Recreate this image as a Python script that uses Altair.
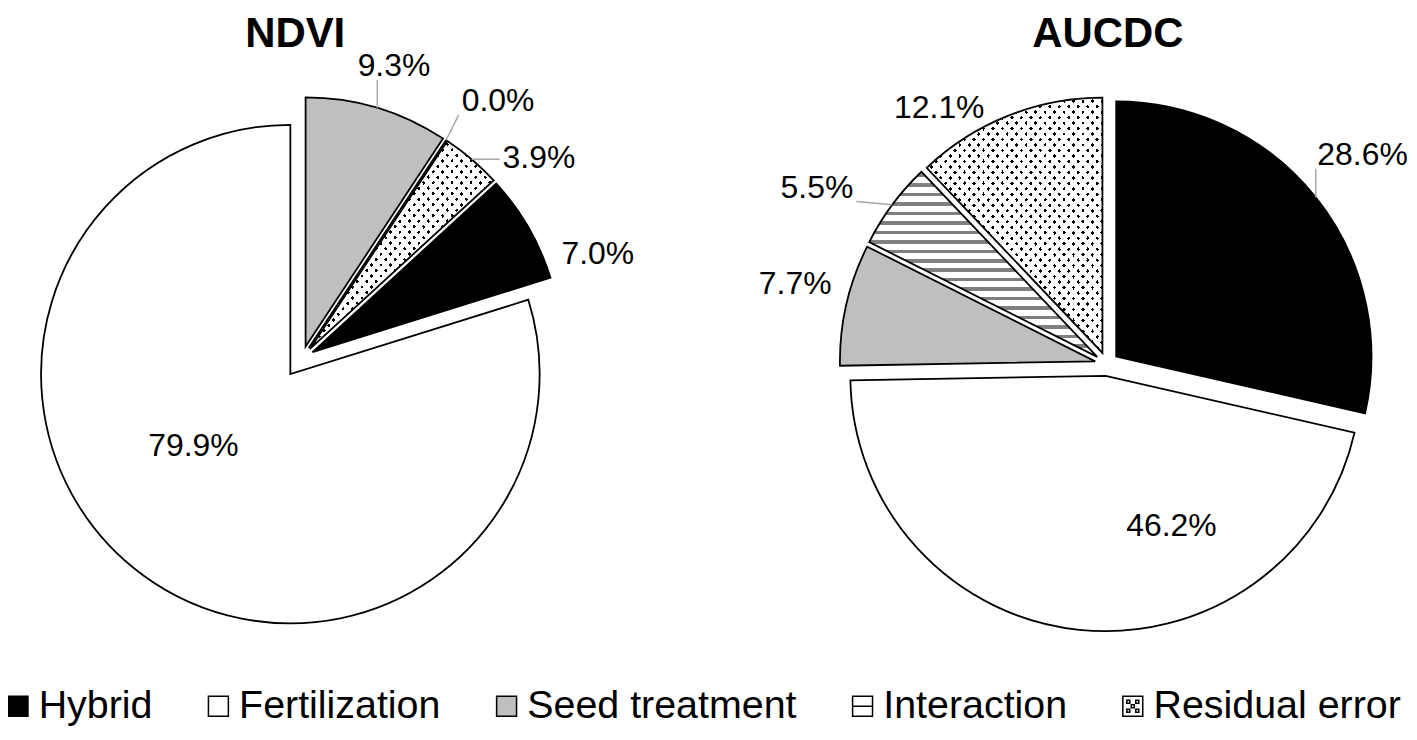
import math
import altair as alt
import pandas as pd

# ---------------- data ----------------
categories = ["Hybrid", "Fertilization", "Seed treatment", "Interaction", "Residual error"]
ndvi_values = [7.0, 79.9, 9.3, 0.0, 3.9]
aucdc_values = [28.6, 46.2, 7.7, 5.5, 12.1]
panel_titles = ["NDVI", "AUCDC"]
series_values = {"NDVI": ndvi_values, "AUCDC": aucdc_values}

# ---------------- style / layout ----------------
M = 8                      # page margin
W, H = 1405, 719
FONT = "Liberation Sans"
LABEL_FS = 32
LEGEND_FS = 39.5
TRANSP = "rgba(255,255,255,0)"
fill_colors = ["#000000", "#ffffff", "#bfbfbf", "#ffffff", "#ffffff"]
stroke_colors = ["#000000"] * 5
SQ = "M-1,-1H1V1H-1Z"
legend_shapes = [
    SQ, SQ, SQ,
    SQ + " M-1,0H1",
    SQ + " M-0.6,-0.6h0.3v0.3h-0.3Z M0.3,-0.6h0.3v0.3h-0.3Z M-0.15,-0.15h0.3v0.3h-0.3Z"
         " M-0.6,0.3h0.3v0.3h-0.3Z M0.3,0.3h0.3v0.3h-0.3Z",
]

PIE_LAYOUT = {
    "NDVI": {
        "center": (303, 358), "r": 250,
        "explode": {"Fertilization": 20}, "explode_default": 12,
        "first": "Seed treatment", "title_x": 296,
        "labels": {"Hybrid": (10.7, 303), "Fertilization": (17.8, 120),
                   "Seed treatment": (0.7, 296), "Interaction": (3.9, 313),
                   "Residual error": (9.5, 300)},
        "leaders": ["Seed treatment", "Interaction", "Residual error"],
    },
    "AUCDC": {
        "center": (1110, 364), "r": 256,
        "explode": {}, "explode_default": 12,
        "first": "Hybrid", "title_x": 1111,
        "labels": {"Hybrid": (-0.9, 320), "Fertilization": (-29.8, 163),
                   "Seed treatment": (1.8, 311), "Interaction": (-5.3, 329),
                   "Residual error": (-11.8, 296)},
        "leaders": ["Hybrid", "Interaction"],
    },
}


def text_w(s, fs):
    widths = {"%": 0.889, ".": 0.278}
    return sum(widths.get(ch, 0.556) for ch in s) * fs


def arc_bbox(a0, a1, r):
    pts = [(0.0, 0.0), (r * math.sin(a0), -r * math.cos(a0)), (r * math.sin(a1), -r * math.cos(a1))]
    k = math.ceil(a0 / (math.pi / 2))
    while k * math.pi / 2 < a1:
        a = k * math.pi / 2
        pts.append((r * math.sin(a), -r * math.cos(a)))
        k += 1
    xs = [p[0] for p in pts]
    ys = [p[1] for p in pts]
    return max(xs) - min(xs), max(ys) - min(ys)


def band_gradient(w, h, nx, ny, period, band, c_band, c_gap, phase=0.0):
    n = math.hypot(nx, ny)
    nx, ny = nx / n, ny / n
    projs = [0.0, w * nx, h * ny, w * nx + h * ny]
    pmin, pmax = min(projs), max(projs)
    L = pmax - pmin
    x0 = w if nx < 0 else 0.0
    y0 = h if ny < 0 else 0.0
    u1, v1 = x0 / w, y0 / h
    s = L / (nx * nx * w * w + ny * ny * h * h)
    u2, v2 = u1 + s * nx * w, v1 + s * ny * h

    def in_band(p):
        return ((p - phase) % period) < band

    cur = c_band if in_band(pmin + 1e-9) else c_gap
    stops = [(0.0, cur)]
    edges = []
    k0 = math.floor((pmin - phase) / period) - 1
    k1 = math.ceil((pmax - phase) / period) + 1
    for k in range(k0, k1 + 1):
        for e in (phase + k * period, phase + k * period + band):
            if pmin < e < pmax:
                edges.append(e)
    edges.sort()
    for e in edges:
        t = round((e - pmin) / L, 5)
        new = c_band if in_band(e + 1e-6) else c_gap
        if new != cur:
            stops.append((t, cur))
            stops.append((t, new))
            cur = new
    stops.append((1.0, cur))
    return {"gradient": "linear", "x1": round(u1, 5), "y1": round(v1, 5),
            "x2": round(u2, 5), "y2": round(v2, 5),
            "stops": [{"offset": t, "color": c} for t, c in stops]}


def pie_frame(name):
    lay = PIE_LAYOUT[name]
    vals = series_values[name]
    total = sum(vals)
    cx0, cy0 = lay["center"][0] - M, lay["center"][1] - M
    r = lay["r"]
    first_start = sum(vals[:categories.index(lay["first"])])
    rot = (2 * math.pi * (total - first_start) / total) % (2 * math.pi)
    rows, cum = [], 0.0
    for c, v in zip(categories, vals):
        v0, v1 = cum, cum + v
        cum = v1
        a0 = rot + 2 * math.pi * v0 / total
        a1 = rot + 2 * math.pi * v1 / total
        mid = (a0 + a1) / 2
        d = lay["explode"].get(c, lay["explode_default"])
        cx = cx0 + d * math.sin(mid)
        cy = cy0 - d * math.cos(mid)
        lab = f"{v:.1f}%"
        da, R = lay["labels"][c]
        la = mid + math.radians(da)
        lx = cx + R * math.sin(la)
        ly = cy - R * math.cos(la)
        ax = cx + r * math.sin(mid)
        ay = cy - r * math.cos(mid)
        hw = text_w(lab, LABEL_FS) / 2 + 3
        hh = 15
        ex = min(max(ax, lx - hw), lx + hw)
        ey = min(max(ay, ly - hh), ly + hh)
        rows.append(dict(cat=c, value=v, v0=v0, v1=v1, a0=a0, a1=a1, cx=cx, cy=cy,
                         label=lab, lx=lx, ly=ly + 0.36 * LABEL_FS,
                         leader=c in lay["leaders"], ax=ax, ay=ay, ex=ex, ey=ey))
    return pd.DataFrame(rows), total, rot


LEGEND = alt.Legend(
    title=None, orient="none", legendX=-9.75, legendY=679, direction="horizontal",
    labelFont=FONT, labelFontSize=LEGEND_FS, labelColor="black", labelLimit=600,
    labelOffset=1, symbolSize=400, symbolStrokeColor="black", symbolStrokeWidth=1.5,
    columnPadding=46, padding=0, symbolOpacity=1,
)
FILL = alt.Fill("cat:N", scale=alt.Scale(domain=categories, range=fill_colors), legend=LEGEND)
XY = dict(x=alt.X("cx:Q", scale=None, axis=None), y=alt.Y("cy:Q", scale=None, axis=None))


def pie_chart(name):
    df, total, rot = pie_frame(name)
    r = PIE_LAYOUT[name]["r"]
    th = dict(
        theta=alt.Theta("v0:Q", stack=False,
                        scale=alt.Scale(domain=[0, total], range=[rot, rot + 2 * math.pi], nice=False)),
        theta2=alt.Theta2("v1:Q"),
    )
    layers = [alt.Chart(df).mark_arc(radius=r).encode(fill=FILL, **th, **XY)]
    for c in ["Interaction", "Residual error"]:
        row = df[df["cat"] == c].iloc[0]
        if row["value"] <= 0:
            continue
        w, h = arc_bbox(row["a0"], row["a1"], r)
        if c == "Interaction":
            grads = [band_gradient(w, h, 0, 1, 9.5, 3.5, "#7f7f7f", "#ffffff", phase=2.0)]
        else:
            grads = [band_gradient(w, h, 0.757, -0.654, 7.19, 2.6, "#000000", TRANSP),
                     band_gradient(w, h, 0.757, 0.654, 7.19, 7.19 - 2.6, "#ffffff", TRANSP)]
        for g in grads:
            layers.append(
                alt.Chart(df).transform_filter(alt.datum.cat == c)
                .mark_arc(radius=r, fill=g).encode(**th, **XY)
            )
    layers.append(
        alt.Chart(df).mark_arc(radius=r, fillOpacity=0, stroke="#000000", strokeWidth=1.8)
        .encode(**th, **XY)
    )
    layers.append(
        alt.Chart(df).transform_filter("datum.leader")
        .mark_rule(color="#a6a6a6", strokeWidth=1.5)
        .encode(x=alt.X("ax:Q", scale=None, axis=None), y=alt.Y("ay:Q", scale=None, axis=None),
                x2="ex:Q", y2="ey:Q")
    )
    layers.append(
        alt.Chart(df).mark_text(font=FONT, fontSize=LABEL_FS, align="center",
                                baseline="alphabetic", color="#000000")
        .encode(x=alt.X("lx:Q", scale=None, axis=None), y=alt.Y("ly:Q", scale=None, axis=None),
                text="label:N")
    )
    return alt.layer(*layers)


titles_df = pd.DataFrame({
    "title": panel_titles,
    "tx": [PIE_LAYOUT[t]["title_x"] - M for t in panel_titles],
})
titles = alt.Chart(titles_df).mark_text(
    font=FONT, fontSize=42, fontWeight="bold", align="center", baseline="alphabetic", color="#000000"
).encode(x=alt.X("tx:Q", scale=None, axis=None), y=alt.value(38), text="title:N")

legend_df = pd.DataFrame({"cat": categories})
legend_layer = alt.Chart(legend_df).mark_point(
    filled=True, size=400, strokeWidth=1.5, opacity=1
).encode(
    x=alt.value(-500), y=alt.value(-500), fill=FILL,
    stroke=alt.Stroke("cat:N", scale=alt.Scale(domain=categories, range=stroke_colors), legend=LEGEND),
    shape=alt.Shape("cat:N", scale=alt.Scale(domain=categories, range=legend_shapes), legend=LEGEND),
)

chart = alt.layer(
    pie_chart("NDVI"), pie_chart("AUCDC"), titles, legend_layer
).resolve_scale(theta="independent").properties(
    width=W, height=H, autosize=alt.AutoSizeParams(type="none"), padding=0
).configure_view(stroke=None)

chart.save("out.html", embed_options={"renderer": "svg", "actions": False})
